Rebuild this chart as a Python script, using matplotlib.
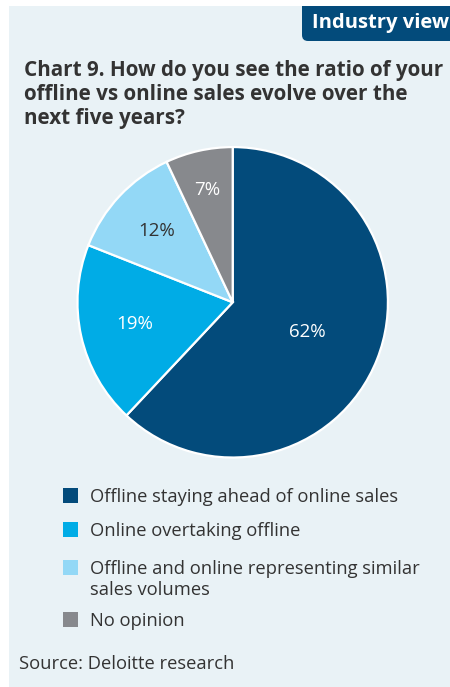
import numpy as np
import matplotlib.pyplot as plt
from matplotlib.patches import Rectangle, PathPatch
from matplotlib.path import Path

plt.rcParams['font.family'] = ['Open Sans', 'DejaVu Sans']

# data
labels = ['Offline staying ahead of online sales',
          'Online overtaking offline',
          'Offline and online representing similar\nsales volumes',
          'No opinion']
values = [62, 19, 12, 7]
colors = ['#034b7b', '#00ace6', '#93d8f6', '#87898d']
pct_colors = ['white', 'white', '#333333', 'white']
pct_radius = [0.52, 0.65, 0.67, 0.74]

title = 'Chart 9. How do you see the ratio of your\noffline vs online sales evolve over the\nnext five years?'
source = 'Source: Deloitte research'
tab_text = 'Industry view'

W, H = 450, 687
fig = plt.figure(figsize=(W / 100, H / 100), dpi=100)
fig.patch.set_facecolor('white')

def fx(x):
    return x / W

def fy(y):
    return 1 - y / H

# background panel
fig.patches.append(Rectangle((fx(9), 0), 1 - fx(9), fy(6), transform=fig.transFigure,
                             facecolor='#e9f2f6', edgecolor='none', zorder=-2))

# tab top right, rounded bottom-left corner
x0, x1, y0, y1, r = fx(302), 1.0, fy(41), fy(6), 6
rx, ry = r / W, r / H
verts = [(x1, y1), (x0, y1), (x0, y0 + ry), (x0, y0), (x0 + rx, y0), (x1, y0), (x1, y1)]
codes = [Path.MOVETO, Path.LINETO, Path.LINETO, Path.CURVE3, Path.CURVE3, Path.LINETO, Path.CLOSEPOLY]
fig.patches.append(PathPatch(Path(verts, codes), transform=fig.transFigure,
                             facecolor='#034b7b', edgecolor='none', zorder=-1))
fig.text(fx(312), fy(23), tab_text, color='white', fontsize=14.5, weight='bold',
         va='center', ha='left')

# title
fig.text(fx(24), fy(60), title, fontsize=14.9, weight='bold', color='#333333',
         va='top', ha='left', linespacing=1.2)

# pie
cx, cy, rad = 232.7, 302.3, 156
ax = fig.add_axes([fx(cx - rad), fy(cy + rad), 2 * rad / W, 2 * rad / H])
wedges, _ = ax.pie(values, colors=colors, startangle=90, counterclock=False,
                   wedgeprops=dict(edgecolor='white', linewidth=1.6))
ax.set_xlim(-1.005, 1.005)
ax.set_ylim(-1.005, 1.005)
ax.set_aspect('equal')
ax.axis('off')
for w, v, c, pr in zip(wedges, values, pct_colors, pct_radius):
    ang = np.deg2rad((w.theta1 + w.theta2) / 2)
    ax.text(pr * np.cos(ang), pr * np.sin(ang), f'{v}%', color=c, fontsize=13.5,
            ha='center', va='center')

# legend
row_y = [495, 529, 567, 619]
for lab, col, y in zip(labels, colors, row_y):
    fig.patches.append(Rectangle((fx(63), fy(y + 7.5)), 15 / W, 15 / H,
                                 transform=fig.transFigure, facecolor=col,
                                 edgecolor='none'))
    fig.text(fx(90), fy(y - 6.5), lab, fontsize=13.2, color='#333333',
             va='top', ha='left', linespacing=1.2)

fig.text(fx(19), fy(664), source, fontsize=13.2, color='#333333', va='center', ha='left')

fig.savefig('out.png', dpi=100)
